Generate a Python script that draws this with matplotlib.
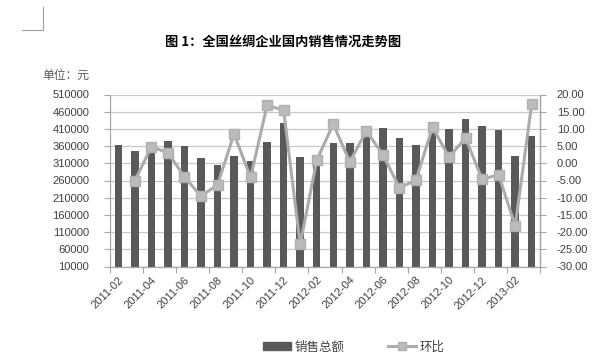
import matplotlib
matplotlib.use("Agg")
import matplotlib.pyplot as plt
from matplotlib.lines import Line2D
from matplotlib.patches import Patch

plt.rcParams['font.family'] = ['Liberation Sans', 'Noto Sans CJK SC', 'DejaVu Sans']
plt.rcParams['axes.unicode_minus'] = False

months = ["2011-02", "2011-03", "2011-04", "2011-05", "2011-06", "2011-07", "2011-08",
          "2011-09", "2011-10", "2011-11", "2011-12", "2012-01", "2012-02", "2012-03",
          "2012-04", "2012-05", "2012-06", "2012-07", "2012-08", "2012-09", "2012-10",
          "2012-11", "2012-12", "2013-01", "2013-02", "2013-03"]
sales = [364000, 345600, 362000, 373800, 359200, 324200, 303800, 331000, 317400,
         371900, 428300, 327100, 330000, 368000, 369000, 402000, 411800, 382600,
         364100, 402300, 409800, 440000, 419500, 406900, 332000, 389400]
mom = [None, -5.1, 4.8, 3.1, -3.9, -9.6, -6.2, 8.5, -4.1, 16.9, 15.4, -23.6, 0.9, 11.4,
       0.4, 9.4, 2.5, -7.1, -4.9, 10.5, 1.8, 7.4, -4.7, -3.3, -18.2, 17.3]

title = "图 1：全国丝绸企业国内销售情况走势图"
unit_label = "单位：元"
legend_labels = ["销售总额", "环比"]

bar_color = "#595959"
line_color = "#ABABAB"
spine_color = "#A6A6A6"
grid_color = "#C8C8C8"
text_color = "#404040"

fig = plt.figure(figsize=(6.01, 3.59), dpi=100)
ax = fig.add_axes([110/601, 1-266.5/359, 430/601, 172/359])
x = list(range(len(months)))
ax.bar(x, sales, width=0.45, color=bar_color, zorder=2)
ax.set_xlim(-0.5, len(months)-0.5)
ax.set_ylim(10000, 510000)
ax.set_yticks(list(range(10000, 510001, 50000)))
ax.set_yticklabels([str(v) for v in range(10000, 510001, 50000)])
ax.yaxis.grid(True, color=grid_color, linewidth=0.9, zorder=0)
ax.set_axisbelow(True)

# x ticks at boundaries, labels at every other category
ax.set_xticks([i - 0.5 for i in range(0, len(months)+1, 2)])
ax.set_xticklabels([])
ax.set_xticks(x[::2], minor=True)
ax.set_xticklabels(months[::2], minor=True, rotation=45, ha='right',
                   rotation_mode='anchor', fontsize=8, color=text_color)
ax.tick_params(axis='x', which='minor', length=0, pad=6)
ax.tick_params(axis='x', which='major', length=4, color=spine_color, direction='out')
ax.tick_params(axis='y', length=4, color=spine_color, pad=11, labelsize=8, labelcolor=text_color)

for s in ['top']:
    ax.spines[s].set_visible(False)
for s in ['left', 'bottom', 'right']:
    ax.spines[s].set_color(spine_color)
    ax.spines[s].set_linewidth(0.9)

ax2 = ax.twinx()
xs = [i for i, v in enumerate(mom) if v is not None]
ys = [v for v in mom if v is not None]
ax2.plot(xs, ys, color=line_color, linewidth=2.2, marker='s', markersize=7.5,
         markerfacecolor="#BBBBBB", markeredgecolor="#B0B0B0", zorder=3)
ax2.set_ylim(-30, 20)
ax2.set_yticks(list(range(-30, 21, 5)))
ax2.set_yticklabels([f"{v:.2f}" for v in range(-30, 21, 5)])
ax2.tick_params(axis='y', length=4, color=spine_color, pad=8, labelsize=8, labelcolor=text_color)
for s in ['top', 'left', 'bottom']:
    ax2.spines[s].set_visible(False)
ax2.spines['right'].set_color(spine_color)
ax2.spines['right'].set_linewidth(0.9)

# Title and unit
fig.text(283/601, 1-42/359, title, ha='center', va='center', fontsize=9.5,
         fontweight='bold', family=['Noto Sans CJK SC'], color='black')
fig.text(42/601, 1-75/359, unit_label, ha='left', va='center', fontsize=8.5,
         family=['Noto Sans CJK SC'], color="#595959")

# Corner mark
fig.add_artist(Line2D([43/601, 43/601], [1-7/359, 1-30/359], color="#A0A0A0", linewidth=0.8))
fig.add_artist(Line2D([22/601, 43/601], [1-30/359, 1-30/359], color="#A0A0A0", linewidth=0.8))

handles = [Patch(facecolor=bar_color, edgecolor=bar_color),
           Line2D([], [], color=line_color, linewidth=2.2, marker='s', markersize=6,
                  markerfacecolor="#BBBBBB", markeredgecolor="#B0B0B0")]
leg = fig.legend(handles, legend_labels, loc='center', bbox_to_anchor=(354/601, 1-347/359),
                 ncol=2, frameon=False, fontsize=9, handlelength=2.2, handleheight=0.6,
                 columnspacing=3.5, handletextpad=0.3,
                 prop={'family': ['Noto Sans CJK SC'], 'size': 9})
for t in leg.get_texts():
    t.set_color(text_color)

fig.savefig("out.png", dpi=100)
